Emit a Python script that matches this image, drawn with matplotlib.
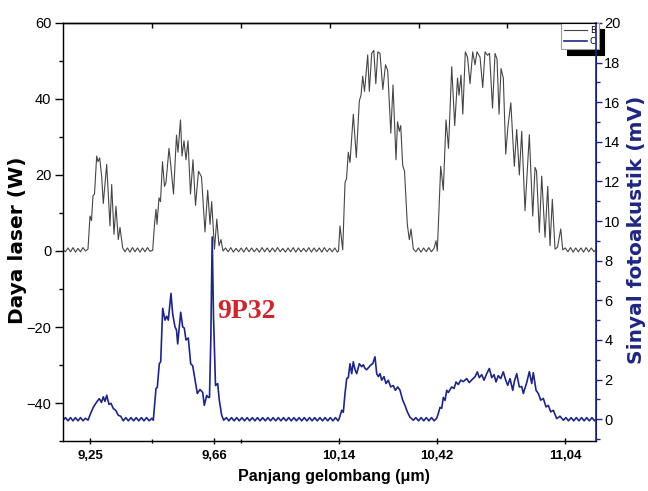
import matplotlib.pyplot as plt

# x axis is the scan step of the monochromator (labels are the wavelengths)
laser_x = [0, 2.5, 5, 7.5, 10, 12.5, 15, 17.5, 20, 22.5,
           25, 27, 28.5, 30, 31.5, 33.7, 35, 36.7, 38.7, 40.3, 43.7, 47, 48.7, 51, 53, 55.3, 57, 59.7,
           62, 64.5, 67, 69.5, 72, 74.5, 77, 79.5, 82, 84.5, 87,
           89.7, 91.5, 93, 94, 96, 97.5, 99.5, 101.5, 103, 106, 108, 110.5, 113.5, 115, 117.5, 119,
           121, 123, 125, 127.5, 130, 132.5, 135.5, 138.5, 142, 144.7, 147, 148.7, 151.5, 153.8,
           156, 158, 160,
           162.6, 165.2, 167.8, 170.4, 173.0, 175.6, 178.2, 180.8, 183.4, 186.0, 188.6, 191.2,
           193.8, 196.4, 199.0, 201.6, 204.2, 206.8, 209.4, 212.0, 214.6, 217.2, 219.8, 222.4,
           225.0, 227.6, 230.2, 232.8, 235.4, 238.0, 240.6, 243.2, 245.8, 248.4, 251.0, 253.6,
           256.2, 258.8, 261.4, 264.0, 266.6, 269.2, 271.8, 274.4,
           275.5, 277, 279.7, 282, 283.5, 285.3, 287, 290.3, 293.3, 296.3, 298, 299.7, 301.5,
           304.7, 306.3, 308.7, 310.8, 312.8, 314.8, 317, 319.8, 322.5, 324.7, 327.8, 330, 333,
           334.5, 336.3, 337.7, 339.7, 341.5, 344.3, 346.3, 348, 350.3,
           352.8, 355.4, 358, 360.6, 363.2, 365.8, 368.4, 371, 373, 374.3,
           377.7, 380.3, 383, 385.5, 388.7, 391.7, 394.5, 396, 398, 399.8, 402.3, 404.5, 407,
           409.7, 412, 414, 417, 419.7, 422, 424.5, 426.5, 429.5, 432, 434, 436, 438, 440.3,
           442.7, 445, 447.8, 451.3, 453.7, 456.3, 458.7, 462, 466.3, 469.7, 472, 473.5, 476.3,
           478.7, 482, 484.7, 487, 489.3, 492, 494.5, 497.7, 499.7,
           502.3, 504.9, 507.5, 510.1, 512.7, 515.3, 517.9, 520.5, 523.1, 525.7, 528.3, 530.9, 533]
laser_w = [0.3, -0.2, 0.8, -0.2, 0.9, -0.3, 0.7, -0.2, 0.9, 0.0,
           0.5, 9.2, 8, 14.5, 15, 25, 23.5, 24.5, 19.6, 12.5, 22.8, 6.6, 17.5, 4.4, 11.8, 3, 6.2, 0.8,
           -0.2, 0.8, -0.3, 0.9, -0.2, 0.8, -0.3, 0.8, -0.2, 0.9, -0.1,
           0.2, 7, 11, 7, 14, 13, 23.5, 17, 18, 27, 22, 15, 30.5, 26, 34.5, 25,
           29, 24, 29, 15, 24, 12, 21, 19.5, 5, 16, 7, 13, 0.5, 8.4,
           1.4, 3, 0,
           0.8, -0.2, 0.9, -0.3, 0.7, -0.2, 0.8, -0.3, 0.9, -0.2, 0.8, -0.2,
           0.7, -0.3, 0.9, -0.2, 0.8, -0.3, 0.8, -0.2, 0.9, -0.2, 0.7, -0.3,
           0.8, -0.2, 0.9, -0.3, 0.8, -0.2, 0.7, -0.2, 0.9, -0.3, 0.8, -0.2,
           0.8, -0.3, 0.9, -0.2, 0.7, -0.2, 0.8, -0.3,
           0, 6.6, 0.3, 18, 19, 26, 23.3, 36, 24.6, 39.5, 41, 46, 42,
           51.6, 42, 52, 52.8, 44, 52.4, 52, 42.5, 49, 47.5, 31, 43.7, 24,
           34, 31.5, 33, 22.5, 21, 7, 3, 5.8, 0.5,
           -0.2, 0.8, -0.3, 0.8, -0.2, 0.9, -0.2, 0.7, 2.7, 0,
           22.3, 16, 34.5, 27, 48.5, 33, 45.5, 41, 46.3, 36, 52.4, 51, 44,
           52.4, 49, 52.4, 51, 43, 52.4, 51.5, 52, 37.6, 52, 50.5, 36, 48, 45.5,
           25.5, 33, 39, 22.3, 32, 20, 31.5, 10.6, 30.6, 9.2, 22, 21, 4.9,
           19.7, 3.6, 17, 1.4, 13.6, 0.5, 1, 5.8, 0.3,
           0.8, -0.2, 0.9, -0.3, 0.8, -0.2, 0.8, -0.3, 0.9, -0.2, 0.8, -0.2, 0.5]

pa_x = [0, 2.5, 5, 7.5, 10, 12.5, 15, 17.5, 20, 22.5, 25,
        27.7, 30.3, 33.7, 36.3, 38.5, 40.3, 42, 43.7, 46, 48, 50.3, 52.7, 55.3, 57.7, 60.3,
        62.8, 65.4, 68, 70.6, 73.2, 75.8, 78.4, 81, 83.6, 86.2, 88.8, 90.3,
        93, 94.3, 96.3, 97.7, 99.7, 102, 103.7, 105.3, 108, 109.7, 112, 113.5, 114.7, 117.7,
        119.7, 121.3, 123, 125.3, 127.7, 129.7, 132, 134.3, 137, 139.7, 141.3, 143.7, 145.3,
        146.5, 147.8, 149.2, 150.5, 152.5, 154.7, 156.3, 158.7, 160.7,
        163.3, 165.9, 168.5, 171.1, 173.7, 176.3, 178.9, 181.5, 184.1, 186.7, 189.3, 191.9,
        194.5, 197.1, 199.7, 202.3, 204.9, 207.5, 210.1, 212.7, 215.3, 217.9, 220.5, 223.1,
        225.7, 228.3, 230.9, 233.5, 236.1, 238.7, 241.3, 243.9, 246.5, 249.1, 251.7, 254.3,
        256.9, 259.5, 262.1, 264.7, 267.3, 269.9, 272.5, 275.1,
        276, 278.7, 280.3, 282, 283.7, 285.3, 287, 288.7, 290.3, 292, 293.7, 296.3, 298.7,
        300.3, 302, 303.7, 306.3, 308, 309.7, 312, 313.7, 315.3, 317, 318.7, 321, 323, 325.3,
        327.7, 330.3, 332.3, 334.7, 337, 339.7, 342, 344.3, 347, 350.3,
        352.9, 355.5, 358.1, 360.7, 363.3, 365.9, 368.5, 371.1, 373.7,
        375.3, 377, 378.7, 380.3, 382, 383.7, 385.3, 388.7, 391, 393, 395.3, 397.7, 400.3,
        403.7, 406.3, 409, 412, 414.3, 416.3, 418.7, 421, 423.7, 426.3, 428.7, 431, 433,
        435.3, 437.7, 440.3, 442.7, 444.7, 447, 449.7, 451.3, 453.7, 456.3, 458.7, 460.3,
        463.7, 466.3, 468.7, 470.3, 473, 475.3, 477.7, 480.3, 483, 485.3, 487.7, 490.3,
        493.7, 497, 500.3,
        502.9, 505.5, 508.1, 510.7, 513.3, 515.9, 518.5, 521.1, 523.7, 526.3, 528.9, 531.5, 533]
pa_mv = [-0.05, 0.08, -0.08, 0.08, -0.08, 0.08, -0.08, 0.08, -0.08, 0.05, -0.05,
         0.3, 0.6, 0.87, 1.04, 0.85, 1.13, 0.9, 1.21, 0.75, 0.8, 0.54, 0.45, 0.2, 0.15, -0.08,
         0.08, -0.08, 0.08, -0.08, 0.08, -0.08, 0.08, -0.08, 0.08, -0.08, 0.05, -0.05,
         1.55, 1.6, 2.8, 2.9, 5.6, 5.0, 5.2, 5.0, 6.35, 5.3, 4.66, 4.5, 3.8, 5.4,
         4.66, 4.6, 4.0, 4.1, 2.8, 2.7, 2.0, 1.3, 1.5, 1.35, 0.7, 1.2, 1.1,
         1.1, 4.0, 9.2, 5.2, 1.7, 1.8, 0.96, 0.2, -0.05,
         0.08, -0.08, 0.08, -0.08, 0.08, -0.08, 0.08, -0.08, 0.08, -0.08, 0.08, -0.08,
         0.08, -0.08, 0.08, -0.08, 0.08, -0.08, 0.08, -0.08, 0.08, -0.08, 0.08, -0.08,
         0.08, -0.08, 0.08, -0.08, 0.08, -0.08, 0.08, -0.08, 0.08, -0.08, 0.08, -0.08,
         0.08, -0.08, 0.08, -0.08, 0.08, -0.08, 0.08, -0.08,
         0, 0.45, 0.35, 1.3, 2.05, 2.1, 2.8, 2.3, 2.9, 2.5, 2.3, 2.8, 2.65,
         2.75, 2.56, 2.5, 2.65, 2.75, 2.8, 3.15, 2.3, 2.15, 2.3, 1.97, 2.15, 1.8, 1.97,
         1.63, 1.7, 1.46, 1.63, 1.46, 0.96, 0.7, 0.37, 0.1, -0.05,
         0.08, -0.08, 0.08, -0.08, 0.08, -0.08, 0.08, -0.08, 0.05,
         0.29, 0.6, 0.55, 1.1, 0.95, 1.46, 1.35, 1.63, 1.55, 1.88, 1.75, 1.97, 1.9,
         2.05, 1.85, 2.0, 2.14, 2.39, 2.1, 2.25, 1.97, 2.3, 2.56, 2.1, 2.25, 1.88,
         2.2, 2.05, 2.39, 1.97, 1.71, 2.05, 1.46, 1.9, 2.3, 1.63, 1.65, 1.3,
         1.85, 2.4, 1.8, 2.35, 1.46, 1.3, 0.96, 1.05, 0.62, 0.7, 0.37, 0.45,
         0.03, 0.15, -0.05,
         0.08, -0.08, 0.08, -0.08, 0.08, -0.08, 0.08, -0.08, 0.08, -0.08, 0.08, -0.08, 0.0]

wl_ticks = [27, 151, 276, 374, 502]
wl_labels = ['9,25', '9,66', '10,14', '10,42', '11,04']
wl_minor = [89, 178]
top_ticks = [89, 178, 267, 355.5, 444]

navy = '#1f2680'

fig = plt.figure(figsize=(6.48, 4.91), dpi=100)
ax = fig.add_axes([0.0972, 0.1018, 0.8226, 0.8514])
ax2 = ax.twinx()

ax.plot(laser_x, laser_w, color='#454545', lw=0.8, label='B')
ax2.plot(pa_x, pa_mv, color=navy, lw=1.2, label='C')

ax.set_xlim(0, 533)
ax.set_ylim(-50, 60)
ax2.set_ylim(-1.1, 20)

ax.set_yticks([-40, -20, 0, 20, 40, 60])
ax.set_yticks(range(-50, 61, 10), minor=True)
ax2.set_yticks(range(0, 21, 2))
ax2.set_yticks(range(-1, 21, 1), minor=True)
ax.set_xticks(wl_ticks)
ax.set_xticklabels(wl_labels, fontfamily='Liberation Sans', fontweight='bold', fontsize=9.5)
ax.set_xticks(wl_minor, minor=True)

ax.tick_params(axis='y', which='major', direction='out', length=5.5, width=1, labelsize=10.5, pad=3)
ax.tick_params(axis='y', which='minor', direction='out', length=3, width=1)
ax.tick_params(axis='x', which='major', direction='inout', length=5, width=1, pad=4)
ax.tick_params(axis='x', which='minor', direction='inout', length=3, width=1)
for lab in ax.get_yticklabels():
    lab.set_fontfamily('Liberation Sans')

ax2.tick_params(axis='y', which='major', direction='out', length=4.5, width=1, color=navy,
                labelsize=10.5, pad=1.5)
ax2.tick_params(axis='y', which='minor', direction='out', length=3, width=1, color=navy)
for lab in ax2.get_yticklabels():
    lab.set_fontfamily('Liberation Sans')

top = ax.secondary_xaxis('top')
top.set_xticks(top_ticks)
top.tick_params(direction='in', length=3.5, width=1, labeltop=False)
top.spines['top'].set_linewidth(1)

for s in ['left', 'bottom', 'top']:
    ax.spines[s].set_linewidth(1)
    ax.spines[s].set_color('#222222')
ax2.spines['right'].set_color(navy)
ax2.spines['right'].set_linewidth(1.2)

ax.set_ylabel('Daya laser (W)', fontfamily='DejaVu Sans', fontweight='bold', fontsize=14.5)
ax.yaxis.set_label_coords(-0.068, 0.48)
ax2.set_ylabel('Sinyal fotoakustik (mV)', fontfamily='DejaVu Sans', fontweight='bold',
               fontsize=14.5, color=navy)
ax2.yaxis.set_label_coords(1.058, 0.505)
ax.set_xlabel('Panjang gelombang (μm)', fontfamily='Liberation Sans', fontweight='bold',
              fontsize=11.5)
ax.xaxis.set_label_coords(0.509, -0.067)

ax.text(154, -17.6, '9P32', color='#c8282e', fontfamily='Liberation Serif',
        fontweight='bold', fontsize=20, ha='left', va='baseline')

h1, l1 = ax.get_legend_handles_labels()
h2, l2 = ax2.get_legend_handles_labels()
leg = ax2.legend(h1 + h2, l1 + l2, loc='upper right', bbox_to_anchor=(1.005, 1.0),
                 borderaxespad=0, fontsize=6, handlelength=2.8, handletextpad=0.3,
                 borderpad=0.35, labelspacing=0.3, fancybox=False, framealpha=1,
                 edgecolor='#999999', shadow={'color': 'black', 'alpha': 1, 'ox': 4, 'oy': -4})
leg.get_frame().set_linewidth(0.8)
leg.set_zorder(2)

fig.savefig('out.png', dpi=100)
